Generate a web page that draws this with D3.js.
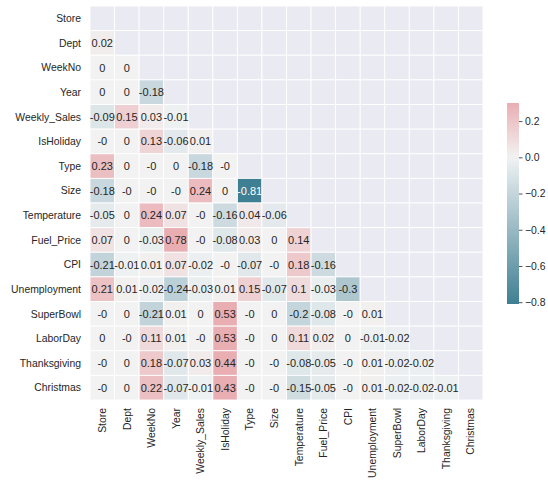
<!DOCTYPE html>
<html>
<head>
<meta charset="utf-8">
<script src="https://cdn.jsdelivr.net/npm/d3@7"></script>
<style>
  body { margin: 0; background: #ffffff; }
  text { font-family: "Liberation Sans", Arial, sans-serif; fill: #262626; }
</style>
</head>
<body>
<svg id="chart" width="548" height="482"></svg>
<script>
// Feature names, in matrix order
const variables = ["Store", "Dept", "WeekNo", "Year", "Weekly_Sales", "IsHoliday", "Type", "Size",
  "Temperature", "Fuel_Price", "CPI", "Unemployment", "SuperBowl", "LaborDay", "Thanksgiving", "Christmas"];

// Lower triangle of the correlation matrix (row i holds columns 0..i-1), rounded to 2 decimals
const corrRows = [
  [],
  [0.02],
  [0, 0],
  [0, 0, -0.18],
  [-0.09, 0.15, 0.03, -0.01],
  [-0, 0, 0.13, -0.06, 0.01],
  [0.23, 0, -0, 0, -0.18, -0],
  [-0.18, -0, -0, -0, 0.24, 0, -0.81],
  [-0.05, 0, 0.24, 0.07, -0, -0.16, 0.04, -0.06],
  [0.07, 0, -0.03, 0.78, -0, -0.08, 0.03, 0, 0.14],
  [-0.21, -0.01, 0.01, 0.07, -0.02, -0, -0.07, -0, 0.18, -0.16],
  [0.21, 0.01, -0.02, -0.24, -0.03, 0.01, 0.15, -0.07, 0.1, -0.03, -0.3],
  [-0, 0, -0.21, 0.01, 0, 0.53, -0, 0, -0.2, -0.08, -0, 0.01],
  [0, -0, 0.11, 0.01, -0, 0.53, -0, 0, 0.11, 0.02, 0, -0.01, -0.02],
  [-0, 0, 0.18, -0.07, 0.03, 0.44, -0, -0, -0.08, -0.05, -0, 0.01, -0.02, -0.02],
  [-0, 0, 0.22, -0.07, -0.01, 0.43, -0, -0, -0.15, -0.05, -0, 0.01, -0.02, -0.02, -0.01]
];

// Colour bar tick values
const colorbarTicks = [0.2, 0.0, -0.2, -0.4, -0.6, -0.8];

const vmin = -0.81, vmax = 0.3, center = 0;

// ---- HUSL (HSLuv) to sRGB, for the diverging palette ----
const M = [
  [3.240969941904521, -1.537383177570093, -0.498610760293],
  [-0.96924363628087, 1.87596750150772, 0.041555057407175],
  [0.055630079696993, -0.20397695888897, 1.056971514242878]
];
const KAPPA = 903.2962962, EPS = 0.0088564516, REF_U = 0.19783000664283, REF_V = 0.46831999493879;
function bounds(L) {
  const out = [];
  const sub1 = Math.pow(L + 16, 3) / 1560896;
  const sub2 = sub1 > EPS ? sub1 : L / KAPPA;
  for (const [m1, m2, m3] of M) {
    for (const t of [0, 1]) {
      const top1 = (284517 * m1 - 94839 * m3) * sub2;
      const top2 = (838422 * m3 + 769860 * m2 + 731718 * m1) * L * sub2 - 769860 * t * L;
      const bottom = (632260 * m3 - 126452 * m2) * sub2 + 126452 * t;
      out.push({ slope: top1 / bottom, intercept: top2 / bottom });
    }
  }
  return out;
}
function maxChroma(L, H) {
  const hr = H / 360 * 2 * Math.PI;
  let min = Infinity;
  for (const b of bounds(L)) {
    const len = b.intercept / (Math.sin(hr) - b.slope * Math.cos(hr));
    if (len >= 0) min = Math.min(min, len);
  }
  return min;
}
function husl(H, S, L) {
  const C = maxChroma(L, H) / 100 * S;
  const hr = H / 360 * 2 * Math.PI;
  const U = C * Math.cos(hr), V = C * Math.sin(hr);
  const vu = U / (13 * L) + REF_U, vv = V / (13 * L) + REF_V;
  const Y = L <= 8 ? L / KAPPA : Math.pow((L + 16) / 116, 3);
  const X = 0 - (9 * Y * vu) / ((vu - 4) * vv - vu * vv);
  const Z = (9 * Y - 15 * vv * Y - vv * X) / (3 * vv);
  const lin = M.map(r => r[0] * X + r[1] * Y + r[2] * Z);
  const srgb = lin.map(c => c <= 0.0031308 ? 12.92 * c : 1.055 * Math.pow(c, 1 / 2.4) - 0.055);
  return d3.rgb(...srgb.map(c => Math.max(0, Math.min(1, c)) * 255));
}

// Diverging map: blue (220) -> light gray -> red (10)
const cmap = d3.scaleLinear()
  .domain([0, 127 / 256, 0.5, 129 / 256, 1])
  .range([husl(220, 75, 50), husl(220, 11.25, 95), d3.rgb(242, 242, 242), husl(10, 11.25, 95), husl(10, 75, 50)])
  .interpolate(d3.interpolateRgb)
  .clamp(true);
const vrange = Math.max(vmax - center, center - vmin);
function colorOf(v) {
  const c = Math.max(vmin, Math.min(vmax, v));
  return cmap(0.5 + (c - center) / (2 * vrange));
}
function luminance(col) {
  const c = d3.rgb(col);
  const f = x => { x /= 255; return x <= 0.03928 ? x / 12.92 : Math.pow((x + 0.055) / 1.055, 2.4); };
  return 0.2126 * f(c.r) + 0.7152 * f(c.g) + 0.0722 * f(c.b);
}
function fmt(v) {
  if (v === 0) return Object.is(v, -0) ? "-0" : "0";
  return String(v);
}

// ---- Layout ----
const svg = d3.select("#chart");
const x = d3.scaleBand().domain(variables).range([90, 483]);
const y = d3.scaleBand().domain(variables).range([6, 400]);

// Axes background with white cell grid for the masked upper half
const cells = [];
variables.forEach((rv, i) => variables.forEach((cv, j) => {
  cells.push({ row: rv, col: cv, value: j < i ? corrRows[i][j] : null });
}));

svg.append("rect")
  .attr("x", 90).attr("y", 6).attr("width", 393).attr("height", 394)
  .attr("fill", "#EAEAF2");

svg.append("g").selectAll("rect")
  .data(cells)
  .join("rect")
  .attr("x", d => x(d.col))
  .attr("y", d => y(d.row))
  .attr("width", x.bandwidth())
  .attr("height", y.bandwidth())
  .attr("fill", d => d.value === null ? "#EAEAF2" : colorOf(d.value))
  .attr("stroke", "#ffffff")
  .attr("stroke-width", 0.9);

// Annotations
svg.append("g").selectAll("text")
  .data(cells.filter(d => d.value !== null))
  .join("text")
  .attr("x", d => x(d.col) + x.bandwidth() / 2)
  .attr("y", d => y(d.row) + y.bandwidth() / 2)
  .attr("dy", "0.36em")
  .attr("text-anchor", "middle")
  .style("font-size", "11px")
  .style("fill", d => luminance(colorOf(d.value)) > 0.408 ? "#262626" : "#ffffff")
  .text(d => fmt(d.value));

// Row labels
svg.append("g").selectAll("text")
  .data(variables)
  .join("text")
  .attr("x", 81)
  .attr("y", d => y(d) + y.bandwidth() / 2)
  .attr("dy", "0.36em")
  .attr("text-anchor", "end")
  .style("font-size", "10.4px")
  .text(d => d);

// Column labels (rotated)
svg.append("g").selectAll("text")
  .data(variables)
  .join("text")
  .attr("transform", d => `translate(${x(d) + x.bandwidth() / 2},408) rotate(-90)`)
  .attr("dy", "0.36em")
  .attr("text-anchor", "end")
  .style("font-size", "10.4px")
  .text(d => d);

// ---- Colour bar ----
const cb = d3.scaleLinear().domain([vmin, vmax]).range([304, 103]);
const defs = svg.append("defs");
const grad = defs.append("linearGradient")
  .attr("id", "cbgrad").attr("x1", 0).attr("y1", 1).attr("x2", 0).attr("y2", 0);
d3.range(0, 1.0001, 0.02).forEach(t => {
  grad.append("stop")
    .attr("offset", t)
    .attr("stop-color", colorOf(vmin + t * (vmax - vmin)));
});
svg.append("rect")
  .attr("x", 507).attr("y", 103).attr("width", 12).attr("height", 201)
  .attr("fill", "url(#cbgrad)");

const cbAxis = svg.append("g")
  .attr("transform", "translate(519,0)")
  .call(d3.axisRight(cb).tickValues(colorbarTicks).tickSize(3.5).tickPadding(2.5).tickFormat(d3.format(".1f")));
cbAxis.select(".domain").remove();
cbAxis.selectAll("line").attr("stroke", "#262626").attr("stroke-width", 0.8);
cbAxis.selectAll("text")
  .style("font-size", "10.4px")
  .style("font-family", "\"Liberation Sans\", Arial, sans-serif")
  .attr("fill", "#262626");
</script>
</body>
</html>
